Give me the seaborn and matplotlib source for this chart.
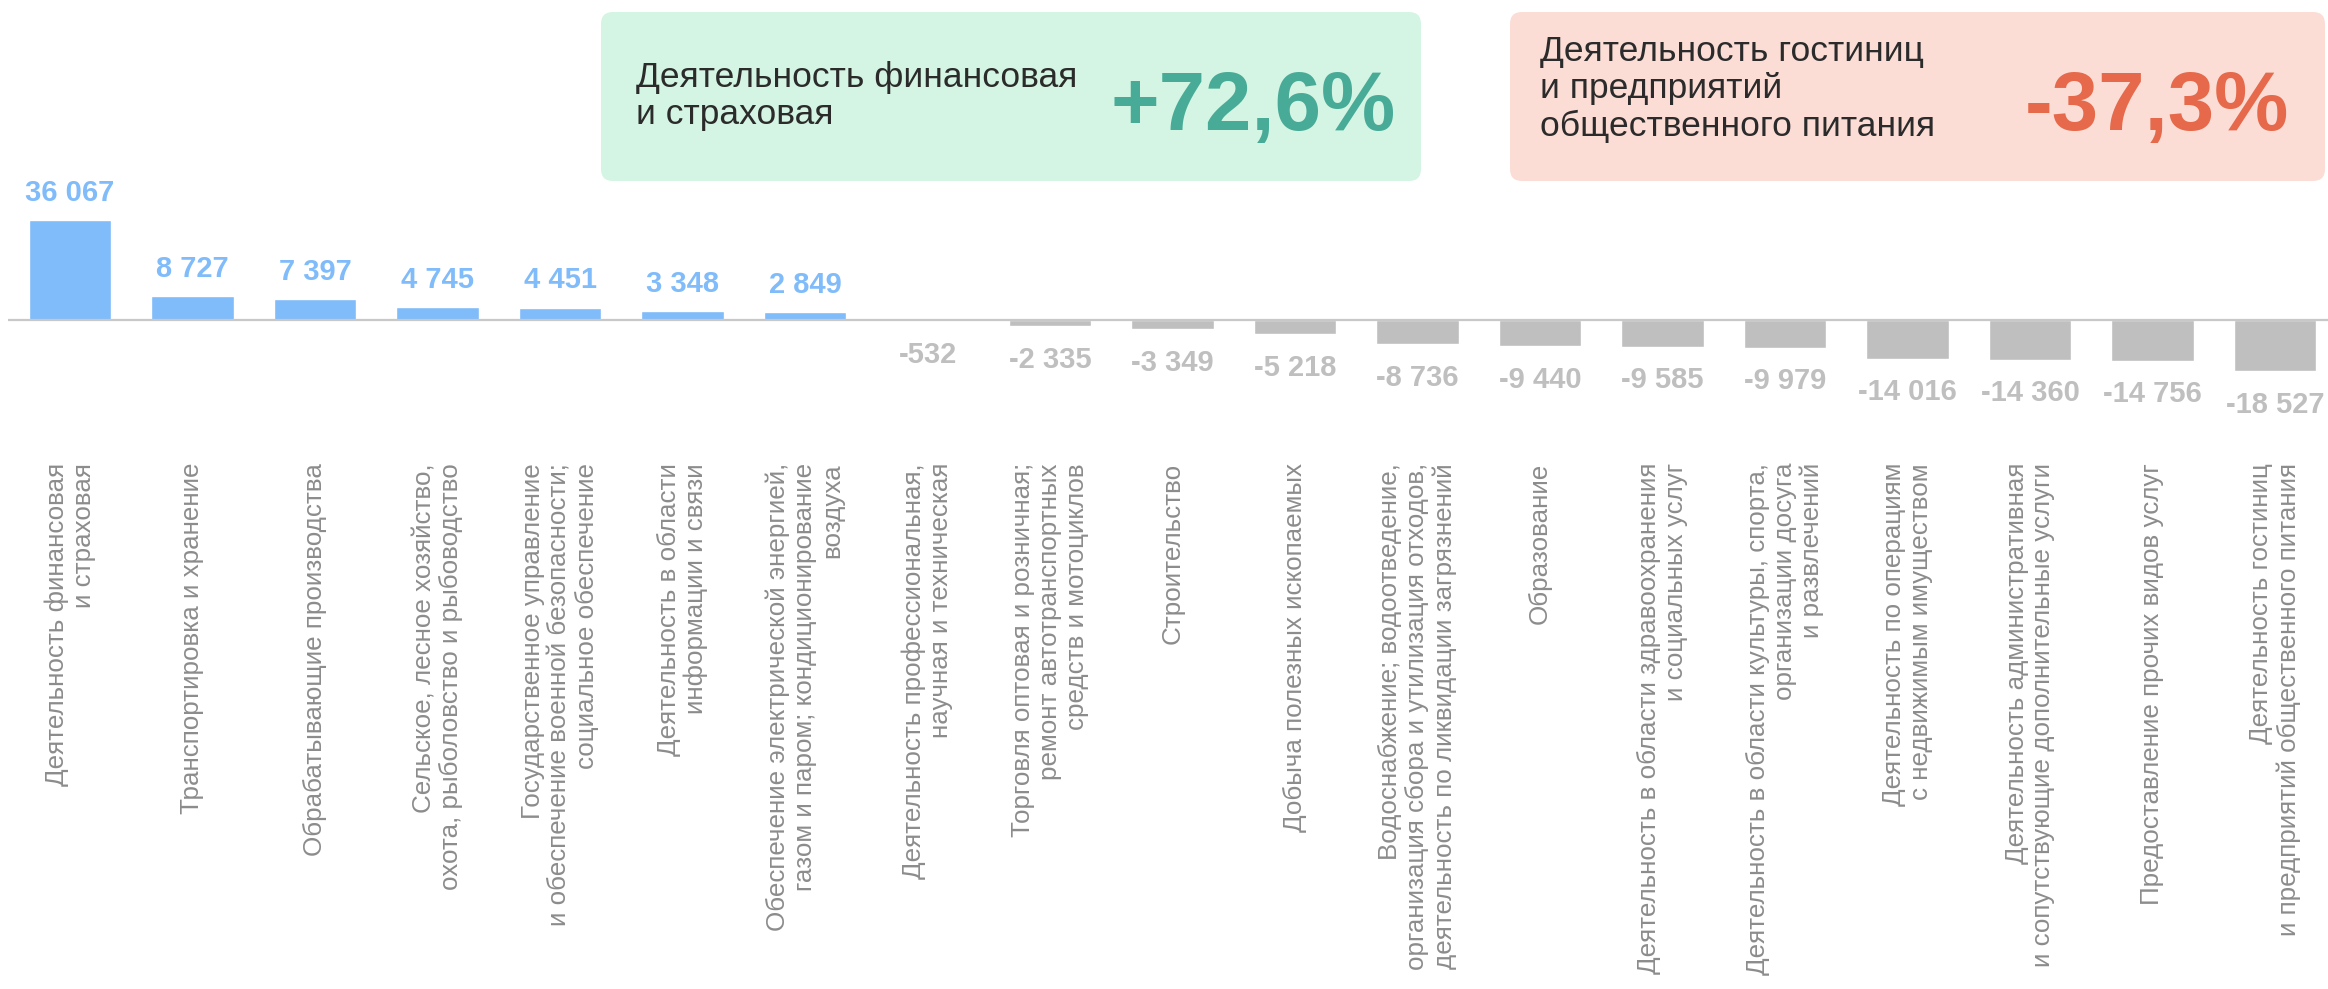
import matplotlib
matplotlib.use("Agg")
import matplotlib.pyplot as plt
from matplotlib.patches import FancyBboxPatch
from matplotlib import font_manager
import seaborn as sns
import pandas as pd

categories = [
    "Деятельность финансовая\nи страховая",
    "Транспортировка и хранение",
    "Обрабатывающие производства",
    "Сельское, лесное хозяйство,\nохота, рыболовство и рыбоводство",
    "Государственное управление\nи обеспечение военной безопасности;\nсоциальное обеспечение",
    "Деятельность в области\nинформации и связи",
    "Обеспечение электрической энергией,\nгазом и паром; кондиционирование\nвоздуха",
    "Деятельность профессиональная,\nнаучная и техническая",
    "Торговля оптовая и розничная;\nремонт автотранспортных\nсредств и мотоциклов",
    "Строительство",
    "Добыча полезных ископаемых",
    "Водоснабжение; водоотведение,\nорганизация сбора и утилизация отходов,\nдеятельность по ликвидации загрязнений",
    "Образование",
    "Деятельность в области здравоохранения\nи социальных услуг",
    "Деятельность в области культуры, спорта,\nорганизации досуга\nи развлечений",
    "Деятельность по операциям\nс недвижимым имуществом",
    "Деятельность административная\nи сопутствующие дополнительные услуги",
    "Предоставление прочих видов услуг",
    "Деятельность гостиниц\nи предприятий общественного питания",
]
values = [36067, 8727, 7397, 4745, 4451, 3348, 2849, -532, -2335, -3349,
          -5218, -8736, -9440, -9585, -9979, -14016, -14360, -14756, -18527]

box_left_title = "Деятельность финансовая\nи страховая"
box_left_value = "+72,6%"
box_right_title = "Деятельность гостиниц\nи предприятий\nобщественного питания"
box_right_value = "-37,3%"

POS = "#80bbfa"
NEG = "#bfbfbf"
LABEL_GRAY = "#8c8c8c"

sns.set_theme(style="white")
plt.rcParams["font.family"] = ["Liberation Sans", "DejaVu Sans"]

W, H = 2328, 989
fig = plt.figure(figsize=(W / 100, H / 100), dpi=100)

ax_left, ax_right = 8, 2328
ax_top, ax_bot = 100, 440
ax = fig.add_axes([ax_left / W, 1 - ax_bot / H, (ax_right - ax_left) / W, (ax_bot - ax_top) / H])

df = pd.DataFrame({"cat": categories, "val": values})
colors = [POS if v >= 0 else NEG for v in values]
sns.barplot(data=df, x="cat", y="val", hue="cat", palette=colors, legend=False,
            width=0.67, ax=ax, saturation=1)

px_per_slot = 122.5
x0 = 70
ax.set_xlim(-(x0 - ax_left) / px_per_slot, 18 + (ax_right - (x0 + 18 * px_per_slot)) / px_per_slot)
zero_y = 320
ppu = 100 / 36067.0
ax.set_ylim(-(ax_bot - zero_y) / ppu, (zero_y - ax_top) / ppu)

ax.axhline(0, color="#c8c8c8", lw=1.6, zorder=3)
for s in ax.spines.values():
    s.set_visible(False)
ax.set_yticks([])
ax.set_xlabel("")
ax.set_ylabel("")
ax.set_xticks(range(len(categories)))
ax.set_xticklabels(categories, rotation=90, ha="center", va="top",
                   multialignment="right", color=LABEL_GRAY, fontsize=18.7,
                   linespacing=1.15)
ax.tick_params(axis="x", length=0, pad=(463 - ax_bot) * 0.72)

for i, v in enumerate(values):
    txt = f"{abs(v):,}".replace(",", " ")
    if v < 0:
        txt = "-" + txt
    if v >= 0:
        ax.annotate(txt, (i, v), xytext=(0, 9.5), textcoords="offset points",
                    ha="center", va="bottom", fontsize=21, fontweight="bold",
                    color=POS, annotation_clip=False)
    else:
        ax.annotate(txt, (i, v), xytext=(0, -14), textcoords="offset points",
                    ha="center", va="top", fontsize=21, fontweight="bold",
                    color=NEG, annotation_clip=False)

ov = fig.add_axes([0, 0, 1, 1], zorder=5)
ov.set_xlim(0, W)
ov.set_ylim(H, 0)
ov.axis("off")
ov.patch.set_alpha(0)

ov.add_patch(FancyBboxPatch((601, 12), 820, 169, boxstyle="round,pad=0,rounding_size=12",
                            fc="#d4f5e3", ec="none"))
ov.add_patch(FancyBboxPatch((1510, 12), 815, 169, boxstyle="round,pad=0,rounding_size=12",
                            fc="#fbddd6", ec="none"))

names = {f.name for f in font_manager.fontManager.ttflist}
if "Liberation Sans Narrow" in names:
    title_family, title_size, title_ls = "Liberation Sans Narrow", 30, 1.0
else:
    title_family, title_size, title_ls = "Liberation Sans", 25.5, 1.18

ov.text(636, 96, box_left_title, family=title_family, fontsize=title_size, color="#2b2b2b",
        ha="left", va="center", linespacing=title_ls)
ov.text(1111, 130, box_left_value, fontsize=60, fontweight="bold", color="#47ab97",
        ha="left", va="baseline")
ov.text(1540, 89, box_right_title, family=title_family, fontsize=title_size, color="#2b2b2b",
        ha="left", va="center", linespacing=title_ls)
ov.text(2025, 130, box_right_value, fontsize=60, fontweight="bold", color="#e5694a",
        ha="left", va="baseline")

fig.savefig("out.png", dpi=100)
